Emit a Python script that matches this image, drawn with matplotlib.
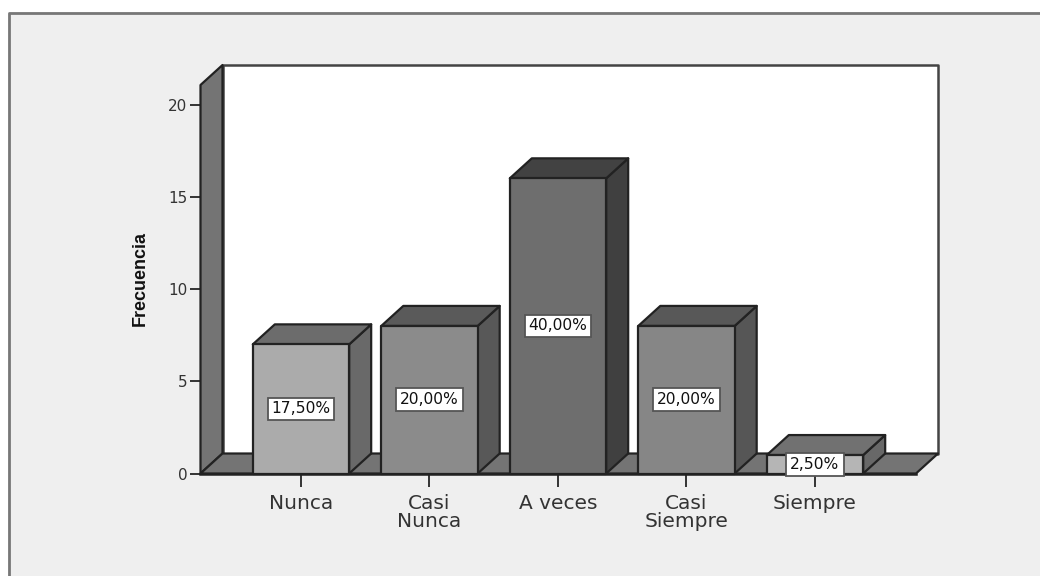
#!/usr/bin/env python3
"""Frequency bar chart with a box-style 3D look, drawn with plain polygons."""
import matplotlib
matplotlib.use("Agg")
import matplotlib.pyplot as plt   # noqa: E402
from matplotlib.lines import Line2D   # noqa: E402
from matplotlib.patches import Polygon, Rectangle   # noqa: E402

categories = ["Nunca", "Casi\nNunca", "A veces", "Casi\nSiempre", "Siempre"]
frecuencia = [7, 8, 16, 8, 1]
porcentajes = ["17,50%", "20,00%", "40,00%", "20,00%", "2,50%"]
yticks = [0, 5, 10, 15, 20]

front_colors = ["#ababab", "#8b8b8b", "#6e6e6e", "#868686", "#b5b5b5"]
top_colors = ["#6c6c6c", "#5a5a5a", "#424242", "#585858", "#717171"]
side_colors = ["#696969", "#585858", "#404040", "#565656", "#686868"]

W, H = 1040, 576
BAR_W = 0.75
# offset of the back plane, in data units
DX = 22 / 128.5
DY = 20 / 18.45
YTOP = 21.06
XMIN, XMAX = -0.782, 4.786
EDGE = "#222222"

plt.rcParams["font.family"] = ["DejaVu Sans"]
fig = plt.figure(figsize=(W / 100, H / 100), dpi=100, facecolor="#efefef")

# white margin and grey frame along the left and top
fig.add_artist(Rectangle((0, 0), 8 / W, 1, transform=fig.transFigure, fc="white", ec="none"))
fig.add_artist(Rectangle((0, 1 - 12 / H), 1, 12 / H, transform=fig.transFigure, fc="white", ec="none"))
fig.add_artist(Line2D([9 / W, 9 / W, 1], [0, 1 - 13 / H, 1 - 13 / H], transform=fig.transFigure,
                      color="#777777", lw=2))

ax = fig.add_axes([200.5 / W, 1 - 473.5 / H, (916 - 200.5) / W, (473.5 - 85) / H])
ax.set_xlim(XMIN, XMAX)
ax.set_ylim(0, YTOP)
ax.patch.set_alpha(0)
for s in ax.spines.values():
    s.set_visible(False)


def poly(pts, fc, z, lw=1.6, ec=EDGE):
    ax.add_patch(Polygon(pts, closed=True, fc=fc, ec=ec, lw=lw, zorder=z,
                         clip_on=False, joinstyle="round"))


# back wall, side wall, floor
poly([(XMIN + DX, DY), (XMAX + DX, DY), (XMAX + DX, YTOP + DY), (XMIN + DX, YTOP + DY)],
     "white", 1, lw=1.8, ec="#444444")
poly([(XMIN, 0), (XMIN + DX, DY), (XMIN + DX, YTOP + DY), (XMIN, YTOP)], "#747474", 2)
poly([(XMIN, 0), (XMAX, 0), (XMAX + DX, DY), (XMIN + DX, DY)], "#747474", 2)

for i, v in enumerate(frecuencia):
    l, r = i - BAR_W / 2, i + BAR_W / 2
    z = 3 + i
    poly([(r, 0), (r + DX, DY), (r + DX, v + DY), (r, v)], side_colors[i], z)
    poly([(l, v), (r, v), (r + DX, v + DY), (l + DX, v + DY)], top_colors[i], z)
    poly([(l, 0), (r, 0), (r, v), (l, v)], front_colors[i], z)
    ax.text(i, v / 2, porcentajes[i], ha="center", va="center", fontsize=11.2,
            color="#111111", zorder=20,
            bbox=dict(boxstyle="square,pad=0.25", fc="white", ec="#555555", lw=1.3))

ax.plot([XMIN, XMAX], [0, 0], color=EDGE, lw=1.8, zorder=15, clip_on=False)

ax.set_yticks(yticks)
ax.set_xticks(range(len(categories)))
ax.set_xticklabels(categories, fontsize=14.5, color="#333333", linespacing=0.95)
ax.tick_params(axis="x", length=9, width=1.4, color="#333333", pad=5.5)
ax.tick_params(axis="y", length=8, width=1.4, color="#333333", pad=1.5, labelsize=11, labelcolor="#333333")

fig.text(140 / W, 1 - 279 / H, "Frecuencia", rotation=90, ha="center", va="center",
         fontsize=13, fontweight="bold", color="#111111",
         family=["Liberation Sans Narrow", "Liberation Sans"])

fig.savefig("out.png", dpi=100, facecolor=fig.get_facecolor())
